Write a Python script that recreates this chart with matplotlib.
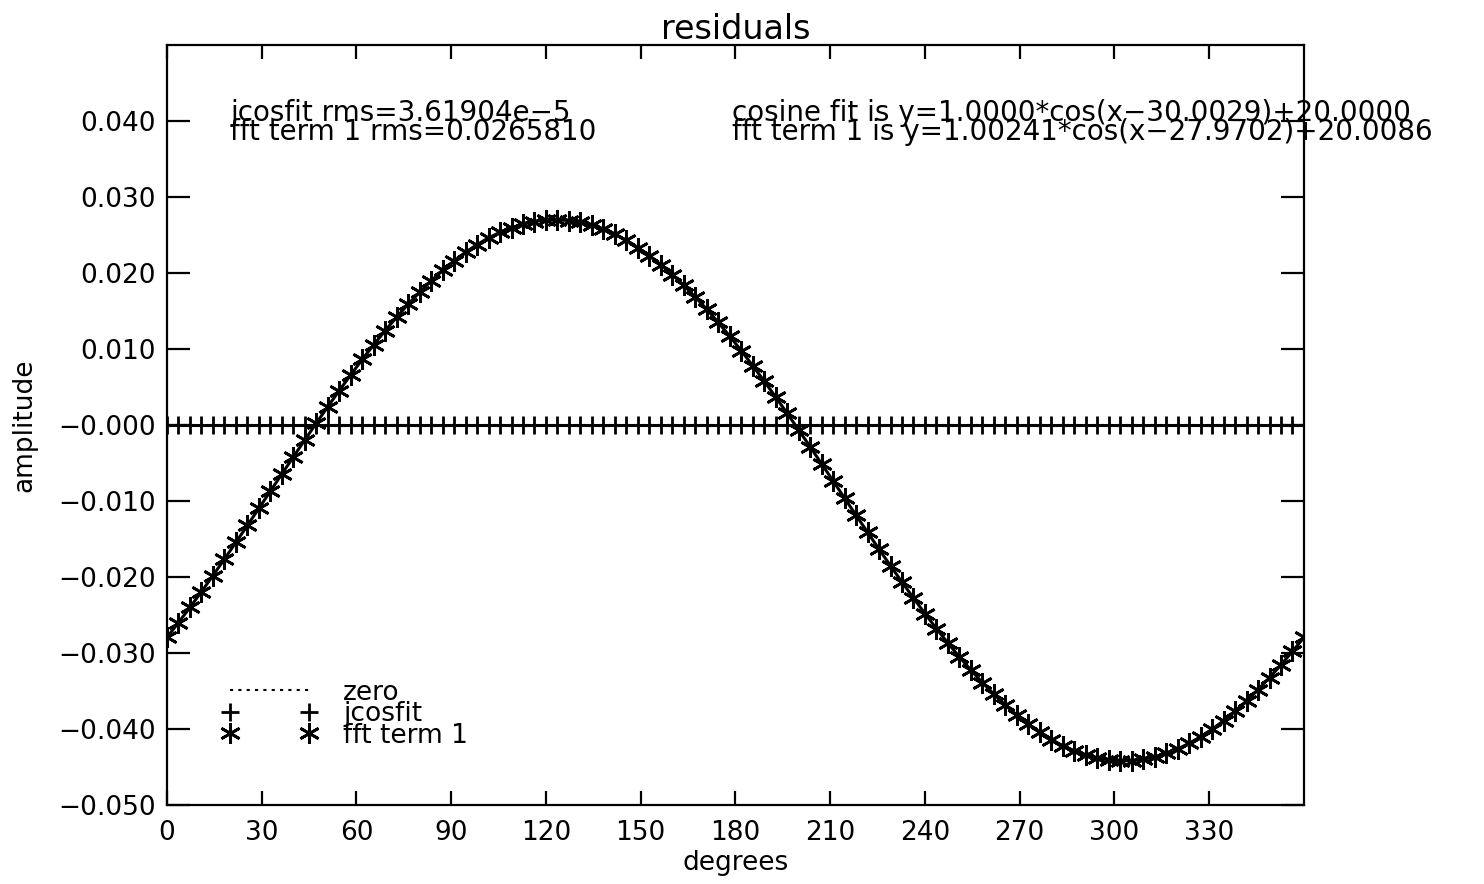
import matplotlib
matplotlib.use("Agg")
import matplotlib.pyplot as plt
from matplotlib.lines import Line2D
from matplotlib.legend_handler import HandlerLine2D

# ---- data ----
degrees = [
    0.00, 3.64, 7.27, 10.91, 14.55, 18.18, 21.82, 25.45, 29.09, 32.73,
    36.36, 40.00, 43.64, 47.27, 50.91, 54.55, 58.18, 61.82, 65.45, 69.09,
    72.73, 76.36, 80.00, 83.64, 87.27, 90.91, 94.55, 98.18, 101.82, 105.45,
    109.09, 112.73, 116.36, 120.00, 123.64, 127.27, 130.91, 134.55, 138.18, 141.82,
    145.45, 149.09, 152.73, 156.36, 160.00, 163.64, 167.27, 170.91, 174.55, 178.18,
    181.82, 185.45, 189.09, 192.73, 196.36, 200.00, 203.64, 207.27, 210.91, 214.55,
    218.18, 221.82, 225.45, 229.09, 232.73, 236.36, 240.00, 243.64, 247.27, 250.91,
    254.55, 258.18, 261.82, 265.45, 269.09, 272.73, 276.36, 280.00, 283.64, 287.27,
    290.91, 294.55, 298.18, 301.82, 305.45, 309.09, 312.73, 316.36, 320.00, 323.64,
    327.27, 330.91, 334.55, 338.18, 341.82, 345.45, 349.09, 352.73, 356.36, 360.00,
]

fft_resid = [
    -0.02794, -0.02600, -0.02400, -0.02194, -0.01981, -0.01765, -0.01544, -0.01322, -0.01097, -0.00871,
    -0.00645, -0.00420, -0.00197, 0.00024, 0.00241, 0.00453, 0.00660, 0.00862, 0.01056, 0.01242,
    0.01420, 0.01589, 0.01748, 0.01896, 0.02034, 0.02159, 0.02273, 0.02374, 0.02462, 0.02536,
    0.02597, 0.02644, 0.02677, 0.02695, 0.02700, 0.02690, 0.02665, 0.02627, 0.02574, 0.02508,
    0.02428, 0.02334, 0.02228, 0.02110, 0.01979, 0.01837, 0.01685, 0.01522, 0.01349, 0.01168,
    0.00978, 0.00781, 0.00577, 0.00368, 0.00154, -0.00065, -0.00287, -0.00511, -0.00736, -0.00963,
    -0.01188, -0.01412, -0.01634, -0.01853, -0.02068, -0.02277, -0.02482, -0.02680, -0.02870, -0.03052,
    -0.03226, -0.03389, -0.03542, -0.03686, -0.03818, -0.03938, -0.04045, -0.04139, -0.04221, -0.04288,
    -0.04342, -0.04382, -0.04408, -0.04419, -0.04416, -0.04399, -0.04368, -0.04322, -0.04263, -0.04189,
    -0.04103, -0.04003, -0.03891, -0.03766, -0.03630, -0.03482, -0.03324, -0.03155, -0.02979, -0.02794,
]

jcosfit_resid = [
    0.0, 0.0, 0.0, 0.0, 0.0, 0.0, 0.0, 0.0, 0.0, 0.0,
    0.0, 0.0, 0.0, 0.0, 0.0, 0.0, 0.0, 0.0, 0.0, 0.0,
    0.0, 0.0, 0.0, 0.0, 0.0, 0.0, 0.0, 0.0, 0.0, 0.0,
    0.0, 0.0, 0.0, 0.0, 0.0, 0.0, 0.0, 0.0, 0.0, 0.0,
    0.0, 0.0, 0.0, 0.0, 0.0, 0.0, 0.0, 0.0, 0.0, 0.0,
    0.0, 0.0, 0.0, 0.0, 0.0, 0.0, 0.0, 0.0, 0.0, 0.0,
    0.0, 0.0, 0.0, 0.0, 0.0, 0.0, 0.0, 0.0, 0.0, 0.0,
    0.0, 0.0, 0.0, 0.0, 0.0, 0.0, 0.0, 0.0, 0.0, 0.0,
    0.0, 0.0, 0.0, 0.0, 0.0, 0.0, 0.0, 0.0, 0.0, 0.0,
    0.0, 0.0, 0.0, 0.0, 0.0, 0.0, 0.0, 0.0, 0.0, 0.0,
]

zero_x = [0.0, 360.0]
zero_y = [0.0, 0.0]

xticks = [0, 30, 60, 90, 120, 150, 180, 210, 240, 270, 300, 330]
yticks = [-0.05, -0.04, -0.03, -0.02, -0.01, 0.0, 0.01, 0.02, 0.03, 0.04]
ytick_labels = ["\u22120.050", "\u22120.040", "\u22120.030", "\u22120.020", "\u22120.010",
                "\u22120.000", "0.010", "0.020", "0.030", "0.040"]

title = "residuals"
xlabel = "degrees"
ylabel = "amplitude"
info_left = ["jcosfit rms=3.61904e\u22125", "fft term 1 rms=0.0265810"]
info_right = ["cosine fit is y=1.0000*cos(x\u221230.0029)+20.0000",
              "fft term 1 is y=1.00241*cos(x\u221227.9702)+20.0086"]
legend_labels = ["zero", "jcosfit", "fft term 1"]

# ---- figure ----
plt.rcParams['font.family'] = ['DejaVu Sans']
FS = 19
FS_INFO = 20
fig = plt.figure(figsize=(14.84, 8.84), dpi=100)
ax = fig.add_axes([0.11253, 0.08937, 0.76617, 0.85973])

asterisk = (6, 2, 0)
ax.plot(zero_x, zero_y, linestyle=(0, (1.5, 2.5)), color='black', linewidth=1.5)
ax.plot(degrees, jcosfit_resid, color='black', linewidth=2.2,
        marker='+', markersize=13, markeredgewidth=2.0)
ax.plot(degrees, fft_resid, color='black', linewidth=2.2,
        marker=asterisk, markersize=15, markeredgewidth=2.0)

ax.set_xlim(0, 360)
ax.set_ylim(-0.05, 0.05)
ax.set_xticks(xticks)
ax.set_xticklabels([str(t) for t in xticks])
ax.set_yticks(yticks)
ax.set_yticklabels(ytick_labels)

ax.tick_params(axis='both', direction='in', top=True, right=True,
               labelsize=FS, width=1.6, color='black')
ax.tick_params(axis='x', length=10, pad=11)
ax.tick_params(axis='y', length=16.5, pad=8)
for s in ax.spines.values():
    s.set_linewidth(1.6)

ax.set_title(title, fontsize=24, pad=4)
ax.set_xlabel(xlabel, fontsize=FS, labelpad=3)
ax.set_ylabel(ylabel, fontsize=FS, labelpad=15)

# text annotations
ax.text(20.0, 0.0400, info_left[0], fontsize=FS_INFO, va='baseline', ha='left')
ax.text(20.0, 0.0375, info_left[1], fontsize=FS_INFO, va='baseline', ha='left')
ax.text(179.0, 0.0400, info_right[0], fontsize=FS_INFO, va='baseline', ha='left', clip_on=False)
ax.text(179.0, 0.0375, info_right[1], fontsize=FS_INFO, va='baseline', ha='left', clip_on=False)

# legend
h_zero = Line2D([], [], color='black', linestyle=(0, (1.5, 2.5)), linewidth=1.5)
h_jc = Line2D([], [], color='black', linestyle='none', marker='+',
              markersize=13, markeredgewidth=2.0)
h_fft = Line2D([], [], color='black', linestyle='none', marker=asterisk,
               markersize=15, markeredgewidth=2.0)
ax.legend([h_zero, h_jc, h_fft], legend_labels, loc='upper left',
          bbox_to_anchor=(0.055, 0.165), frameon=False, fontsize=FS,
          numpoints=2, handlelength=3.0, handletextpad=1.3, labelspacing=-0.17,
          borderpad=0.0, borderaxespad=0.0,
          handler_map={Line2D: HandlerLine2D(marker_pad=0.0)})

fig.savefig("out.png", dpi=100)
